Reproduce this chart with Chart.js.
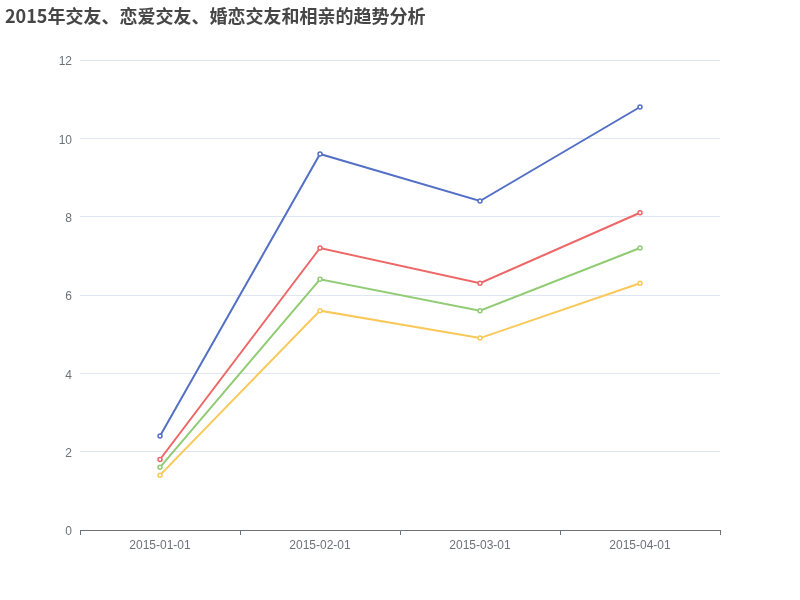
<!DOCTYPE html>
<html>
<head>
<meta charset="utf-8">
<script src="https://cdn.jsdelivr.net/npm/chart.js@4/dist/chart.umd.min.js"></script>
<style>
  html, body { margin: 0; padding: 0; background: #fff; }
  #wrap { width: 800px; height: 600px; position: relative; }
</style>
</head>
<body>
<div id="wrap"><canvas id="chart" width="800" height="600"></canvas></div>
<script>
const titleText = "2015年交友、恋爱交友、婚恋交友和相亲的趋势分析";
const dates = ["2015-01-01", "2015-02-01", "2015-03-01", "2015-04-01"];
const seriesNames = ["交友", "恋爱交友", "婚恋交友", "相亲"];
const jiaoyou = [2.4, 9.6, 8.4, 10.8];
const lianai = [1.8, 7.2, 6.3, 8.1];
const hunlian = [1.6, 6.4, 5.6, 7.2];
const xiangqin = [1.4, 5.6, 4.9, 6.3];
const colors = ["#5470c6", "#ee6666", "#91cc75", "#fac858"];

const titlePlugin = {
  id: "leftTitle",
  afterDraw(chart) {
    const ctx = chart.ctx;
    ctx.save();
    ctx.font = "bold 18px 'Noto Sans CJK SC', sans-serif";
    ctx.fillStyle = "#464646";
    ctx.textBaseline = "middle";
    ctx.textAlign = "left";
    ctx.fillText(titleText, 5, 16);
    ctx.restore();
  }
};

const values = [jiaoyou, lianai, hunlian, xiangqin];
const datasets = values.map((data, i) => ({
  label: seriesNames[i],
  data,
  borderColor: colors[i],
  backgroundColor: "#fff",
  pointBorderColor: colors[i],
  pointBackgroundColor: "#fff",
  pointRadius: 2,
  pointBorderWidth: 1.5,
  borderWidth: 2,
  tension: 0
}));

new Chart(document.getElementById("chart"), {
  type: "line",
  data: { labels: dates, datasets },
  options: {
    responsive: false,
    animation: false,
    layout: { padding: { top: 60, left: 40, right: 80, bottom: 30 } },
    plugins: { legend: { display: false }, tooltip: { enabled: false } },
    scales: {
      x: {
        offset: true,
        grid: { display: true, offset: true, drawOnChartArea: false, drawTicks: true, tickLength: 5, color: "#6e7079" },
        border: { display: true, color: "#6e7079", width: 1 },
        ticks: { color: "#6e7079", font: { family: "'Liberation Sans', Arial, sans-serif", size: 12 }, padding: 3, maxRotation: 0 },
        afterFit(scale) { scale.height = 40; }
      },
      y: {
        min: 0, max: 12,
        ticks: { stepSize: 2, color: "#6e7079", font: { family: "'Liberation Sans', Arial, sans-serif", size: 12 }, padding: 8, labelOffset: 2 },
        grid: { color: "#e0e6f1", drawTicks: false },
        border: { display: false },
        afterFit(scale) { scale.width = 40; }
      }
    }
  },
  plugins: [titlePlugin]
});
</script>
</body>
</html>
